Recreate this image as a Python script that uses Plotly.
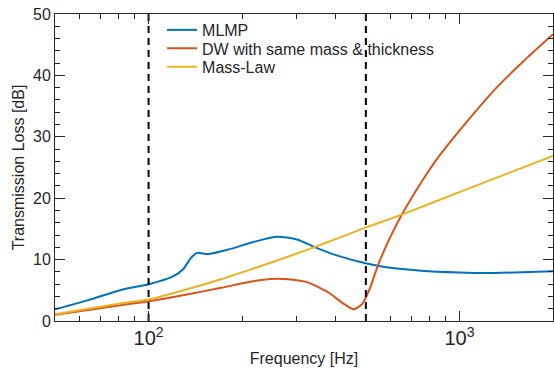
import plotly.graph_objects as go

# Frequencies (Hz) and transmission loss (dB)
mlmp_f = [50, 64, 82, 100, 118, 129, 137, 143.4, 155, 179.6, 218.6, 253.5, 282, 304, 344, 408, 499, 590, 753, 1000, 1202, 1500, 2000]
mlmp_tl = [1.9, 3.4, 5.1, 6.0, 7.1, 8.4, 10.3, 11.1, 10.9, 11.6, 12.9, 13.7, 13.55, 13.2, 12.0, 10.6, 9.4, 8.7, 8.2, 7.9, 7.8, 7.9, 8.1]

dw_f = [50, 64, 82, 100, 134, 171, 218.6, 247, 282, 327, 380, 419, 457, 485, 516, 548, 605, 659, 754, 853, 1000, 1262, 1427, 1613, 2000]
dw_tl = [1.0, 1.8, 2.6, 3.2, 4.35, 5.4, 6.5, 6.85, 6.8, 6.25, 4.6, 3.0, 1.9, 2.7, 5.4, 9.2, 14.1, 17.7, 22.6, 26.6, 31.0, 37.0, 39.8, 42.4, 46.7]

ml_f = [50, 64, 82, 100, 134, 171, 218.6, 282, 344, 499, 659, 1000, 2000]
ml_tl = [1.1, 2.0, 2.9, 3.5, 5.2, 6.8, 8.6, 10.5, 12.1, 15.2, 17.4, 21.0, 26.9]

boundary_f = [100, 500]
y_span = [0, 50]

legend_names = ["MLMP", "DW with same mass & thickness", "Mass-Law"]

fig = go.Figure()
fig.add_trace(go.Scatter(x=mlmp_f, y=mlmp_tl, mode="lines", name=legend_names[0], legend="legend",
                         line=dict(color="#0072BD", width=2, shape="spline", smoothing=0.6)))
fig.add_trace(go.Scatter(x=dw_f, y=dw_tl, mode="lines", name=legend_names[1], legend="legend2",
                         line=dict(color="#D95319", width=2, shape="spline", smoothing=0.6)))
fig.add_trace(go.Scatter(x=ml_f, y=ml_tl, mode="lines", name=legend_names[2], legend="legend3",
                         line=dict(color="#EDB120", width=2, shape="spline", smoothing=0.6)))
for bf in boundary_f:
    fig.add_trace(go.Scatter(x=[bf, bf], y=y_span, mode="lines", showlegend=False,
                             line=dict(color="black", width=2, dash="7px,5px")))

font = "Liberation Sans, Arial, sans-serif"
ink = "#262626"
leg = dict(x=0.215, xanchor="left", yanchor="middle", bgcolor="rgba(0,0,0,0)",
           borderwidth=0, font=dict(size=16, color=ink), itemwidth=30)
fig.update_layout(
    width=554, height=376,
    margin=dict(l=55, r=1, t=14, b=55),
    paper_bgcolor="white", plot_bgcolor="white",
    font=dict(family=font, size=16, color=ink),
    showlegend=True,
    legend=dict(leg, y=0.948),
    legend2=dict(leg, y=0.888),
    legend3=dict(leg, y=0.828),
    xaxis=dict(type="log", range=[1.699, 3.301], automargin=False,
               dtick=1, exponentformat="power",
               ticks="inside", ticklen=10, tickwidth=1, tickcolor=ink,
               minor=dict(ticks="inside", ticklen=5, tickwidth=1, tickcolor=ink, dtick="D1"),
               showline=True, linecolor=ink, linewidth=1, mirror="ticks",
               showgrid=False, zeroline=False,
               title=dict(text="Frequency [Hz]", standoff=4, font=dict(size=16)),
               tickfont=dict(size=16)),
    yaxis=dict(range=[0, 50], dtick=10, automargin=False,
               ticks="inside", ticklen=10, tickwidth=1, tickcolor=ink,
               minor=dict(ticks="inside", ticklen=5, tickwidth=1, tickcolor=ink, dtick=2),
               showline=True, linecolor=ink, linewidth=1, mirror="ticks",
               showgrid=False, zeroline=False,
               title=dict(text="Transmission Loss [dB]", standoff=4, font=dict(size=16)),
               tickfont=dict(size=16)),
)

fig.write_html("out.html", config={"displayModeBar": False},
               post_script="document.body.style.margin='0';")
